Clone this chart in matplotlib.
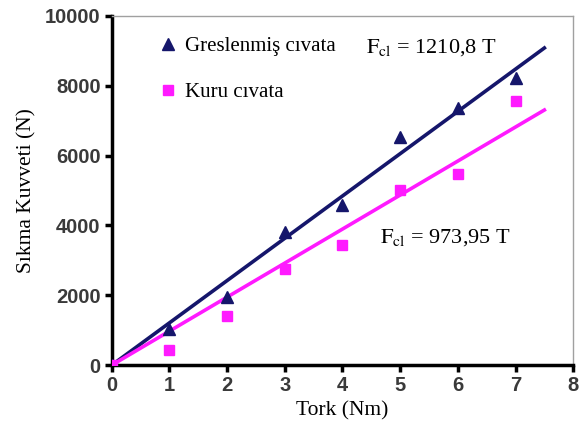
import numpy as np
import matplotlib.pyplot as plt

# data
torque = [0, 1, 2, 3, 4, 5, 6, 7]
greased = [0, 1030, 1950, 3810, 4590, 6530, 7370, 8220]
dry = [0, 430, 1400, 2750, 3440, 5010, 5470, 7560]
k_greased = 1210.8
k_dry = 973.95
fit_x = [0, 7.5]

navy = '#15166b'
pink = '#ff1aff'

plt.rcParams['mathtext.fontset'] = 'stix'

fig = plt.figure(figsize=(5.79, 4.41), dpi=100)
ax = fig.add_axes([0.193, 0.172, 0.797, 0.792])

fx = np.array(fit_x)
ax.plot(fx, k_greased * fx, color=navy, lw=2.6, zorder=2)
ax.plot(fx, k_dry * fx, color=pink, lw=2.6, zorder=2)
ax.plot(torque, greased, ls='none', marker='^', ms=8, color=navy,
        label='Greslenmiş cıvata', zorder=3)
ax.plot(torque, dry, ls='none', marker='s', ms=7.5, color=pink,
        label='Kuru cıvata', zorder=3)

ax.set_xlim(0, 8)
ax.set_ylim(0, 10000)
ax.set_xticks(range(0, 9))
ax.set_yticks(range(0, 10001, 2000))

for s in ['top', 'right']:
    ax.spines[s].set_color('#a0a0a0')
    ax.spines[s].set_linewidth(1)
for s in ['left', 'bottom']:
    ax.spines[s].set_color('black')
    ax.spines[s].set_linewidth(2.5)
ax.tick_params(direction='out', length=5, width=2.5, color='black',
               labelsize=14.5, labelcolor='#3a3a3a', pad=3)
for lab in ax.get_xticklabels() + ax.get_yticklabels():
    lab.set_fontfamily('Liberation Sans')
    lab.set_fontweight('bold')

ax.set_xlabel('Tork (Nm)', family='Liberation Serif', fontsize=15.5, labelpad=4)
ax.set_ylabel('Sıkma Kuvveti (N)', family='Liberation Serif', fontsize=15.5, labelpad=6)

ax.legend(loc='upper left', frameon=False, prop={'family': 'Liberation Serif', 'size': 15},
          handletextpad=0.2, borderaxespad=0.6, labelspacing=1.25, handlelength=1.2,
          bbox_to_anchor=(0.05, 1.0))

ax.text(4.4, 8950, r'$\mathrm{F_{cl}}$ = 1210,8 T', fontsize=16,
        family='Liberation Serif')
ax.text(4.65, 3500, r'$\mathrm{F_{cl}}$ = 973,95 T', fontsize=16,
        family='Liberation Serif')

fig.savefig('out.png', dpi=100)
